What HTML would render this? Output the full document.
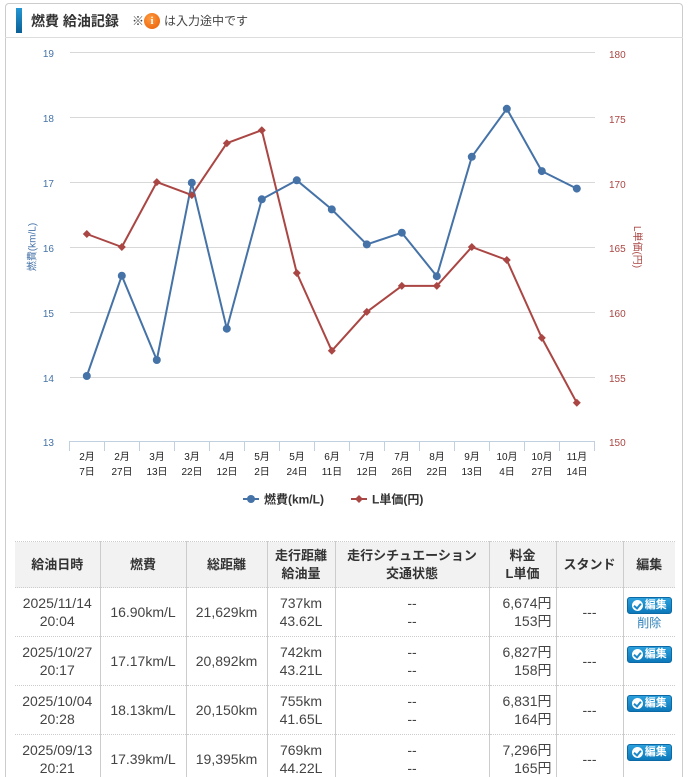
<!DOCTYPE html>
<html><head><meta charset="utf-8">
<style>
*{margin:0;padding:0;box-sizing:border-box}
html,body{width:688px;height:777px;overflow:hidden;background:#fff;font-family:"Liberation Sans","Noto Sans CJK JP",sans-serif;color:#444}
.frame{position:absolute;left:5px;top:3px;width:678px;height:774px;border:1px solid #ccc;border-bottom:none;border-radius:4px 4px 0 0}
.hdr{position:absolute;left:5px;top:3px;width:678px;height:35px;border-bottom:1px solid #ddd}
.bar{position:absolute;left:16px;top:8px;width:6px;height:25px;background:linear-gradient(#2597d4,#0b5f96)}
.title{position:absolute;left:31px;top:11px;font-size:14px;font-weight:bold;color:#333;white-space:nowrap;line-height:20px}
.note{position:absolute;left:132px;top:12px;font-size:12px;color:#444;white-space:nowrap;line-height:18px}
.ic{position:absolute;left:144px;top:13px;width:16px;height:16px;border-radius:50%;background:radial-gradient(circle at 40% 35%,#ff9a40,#e85a00);color:#fff;font:bold 11px/16px "Liberation Serif",serif;text-align:center}
.note2{position:absolute;left:164px;top:12px;font-size:12px;color:#444;white-space:nowrap;line-height:18px}
svg{position:absolute;left:0;top:0}
.tw{position:absolute;left:15px;top:541px;width:660px;height:236px;overflow:hidden}
table{border-collapse:collapse;table-layout:fixed;width:660px;font-size:14px;color:#444}
th{background:#f2f2f2;font-weight:bold;color:#333;font-size:13px;height:46px;line-height:18px;border-top:1px dotted #ccc;border-left:1px solid #ccc;text-align:center;vertical-align:middle}
td{height:49px;line-height:18px;border-top:1px dotted #ccc;border-left:1px solid #ccc;text-align:center;vertical-align:middle}
th:first-child,td:first-child{border-left:none}
td.r{text-align:right;padding-right:4px}
td.e{vertical-align:top;padding-top:6px}
.btn{display:inline-block;width:45px;height:17px;border-radius:3px;background:linear-gradient(#2ba0dc,#0c78ba);border:1px solid #0b6aa5;color:#fff;font-weight:bold;font-size:11px;line-height:15px;text-align:right;padding-right:4px;position:relative}
.btn:before{content:"";position:absolute;left:4px;top:2px;width:11px;height:11px;border-radius:50%;background:#fff}
.btn:after{content:"";position:absolute;left:7px;top:4px;width:3px;height:5px;border-right:2px solid #1a88c8;border-bottom:2px solid #1a88c8;transform:rotate(40deg)}
.del{display:block;color:#2a7fb8;font-size:12px;line-height:16px;margin-top:1px}
</style></head><body>
<div class="frame"></div>
<div class="hdr"></div>
<div class="bar"></div>
<div class="title">燃費 給油記録</div>
<div class="note">※</div>
<div class="ic">i</div>
<div class="note2">は入力途中です</div>

<svg width="688" height="540" viewBox="0 0 688 540" xmlns="http://www.w3.org/2000/svg" font-family="Liberation Sans, Noto Sans CJK JP, sans-serif">
<g stroke="#d8d8d8" stroke-width="1">
<line x1="70" y1="52.5" x2="595" y2="52.5"/>
<line x1="70" y1="117.5" x2="595" y2="117.5"/>
<line x1="70" y1="182.5" x2="595" y2="182.5"/>
<line x1="70" y1="247.5" x2="595" y2="247.5"/>
<line x1="70" y1="312.5" x2="595" y2="312.5"/>
<line x1="70" y1="377.5" x2="595" y2="377.5"/>
</g>
<g stroke="#c0d0e0" stroke-width="1">
<line x1="69" y1="441.5" x2="595" y2="441.5"/>
<line x1="69.5" y1="441" x2="69.5" y2="451"/>
<line x1="104.5" y1="441" x2="104.5" y2="451"/>
<line x1="139.5" y1="441" x2="139.5" y2="451"/>
<line x1="174.5" y1="441" x2="174.5" y2="451"/>
<line x1="209.5" y1="441" x2="209.5" y2="451"/>
<line x1="244.5" y1="441" x2="244.5" y2="451"/>
<line x1="279.5" y1="441" x2="279.5" y2="451"/>
<line x1="314.5" y1="441" x2="314.5" y2="451"/>
<line x1="349.5" y1="441" x2="349.5" y2="451"/>
<line x1="384.5" y1="441" x2="384.5" y2="451"/>
<line x1="419.5" y1="441" x2="419.5" y2="451"/>
<line x1="454.5" y1="441" x2="454.5" y2="451"/>
<line x1="489.5" y1="441" x2="489.5" y2="451"/>
<line x1="524.5" y1="441" x2="524.5" y2="451"/>
<line x1="559.5" y1="441" x2="559.5" y2="451"/>
<line x1="594.5" y1="441" x2="594.5" y2="451"/>
</g>
<g font-size="10" fill="#4572a7" text-anchor="end">
<text x="54" y="57">19</text><text x="54" y="122">18</text><text x="54" y="187">17</text><text x="54" y="252">16</text><text x="54" y="317">15</text><text x="54" y="382">14</text><text x="54" y="446">13</text>
</g>
<g font-size="10" fill="#aa4643" text-anchor="start">
<text x="609" y="58">180</text><text x="609" y="123">175</text><text x="609" y="188">170</text><text x="609" y="252">165</text><text x="609" y="317">160</text><text x="609" y="382">155</text><text x="609" y="446">150</text>
</g>
<text x="0" y="0" font-size="10" fill="#4572a7" text-anchor="middle" transform="translate(35.5,247) rotate(-90)">燃費(km/L)</text>
<text x="0" y="0" font-size="10" fill="#aa4643" text-anchor="middle" transform="translate(634,247) rotate(90)">L単価(円)</text>
<g font-size="10" fill="#222" text-anchor="middle">
<text x="87" y="460">2月</text><text x="87" y="475">7日</text>
<text x="122" y="460">2月</text><text x="122" y="475">27日</text>
<text x="157" y="460">3月</text><text x="157" y="475">13日</text>
<text x="192" y="460">3月</text><text x="192" y="475">22日</text>
<text x="227" y="460">4月</text><text x="227" y="475">12日</text>
<text x="262" y="460">5月</text><text x="262" y="475">2日</text>
<text x="297" y="460">5月</text><text x="297" y="475">24日</text>
<text x="332" y="460">6月</text><text x="332" y="475">11日</text>
<text x="367" y="460">7月</text><text x="367" y="475">12日</text>
<text x="402" y="460">7月</text><text x="402" y="475">26日</text>
<text x="437" y="460">8月</text><text x="437" y="475">22日</text>
<text x="472" y="460">9月</text><text x="472" y="475">13日</text>
<text x="507" y="460">10月</text><text x="507" y="475">4日</text>
<text x="542" y="460">10月</text><text x="542" y="475">27日</text>
<text x="577" y="460">11月</text><text x="577" y="475">14日</text>
</g>
<polyline fill="none" stroke="#aa4643" stroke-width="2" stroke-linejoin="round" points="86.8,234 121.8,247 156.8,182.1 191.8,195.1 226.8,143.2 261.8,130.2 296.8,273 331.8,350.8 366.8,311.9 401.8,285.9 436.8,285.9 471.8,247 506.8,260 541.8,337.9 576.8,402.8"/>
<polyline fill="none" stroke="#4572a7" stroke-width="2" stroke-linejoin="round" points="86.8,376 121.8,275.7 156.8,360 191.8,182.7 226.8,328.7 261.8,199.3 296.8,180.3 331.8,209.4 366.8,244.4 401.8,232.7 436.8,276.2 471.8,156.8 506.8,108.8 541.8,171.1 576.8,188.6"/>
<g fill="#aa4643">
<path d="M86.8,230 l4,4 l-4,4 l-4,-4z"/><path d="M121.8,243 l4,4 l-4,4 l-4,-4z"/><path d="M156.8,178.1 l4,4 l-4,4 l-4,-4z"/><path d="M191.8,191.1 l4,4 l-4,4 l-4,-4z"/><path d="M226.8,139.2 l4,4 l-4,4 l-4,-4z"/><path d="M261.8,126.2 l4,4 l-4,4 l-4,-4z"/><path d="M296.8,269 l4,4 l-4,4 l-4,-4z"/><path d="M331.8,346.8 l4,4 l-4,4 l-4,-4z"/><path d="M366.8,307.9 l4,4 l-4,4 l-4,-4z"/><path d="M401.8,281.9 l4,4 l-4,4 l-4,-4z"/><path d="M436.8,281.9 l4,4 l-4,4 l-4,-4z"/><path d="M471.8,243 l4,4 l-4,4 l-4,-4z"/><path d="M506.8,256 l4,4 l-4,4 l-4,-4z"/><path d="M541.8,333.9 l4,4 l-4,4 l-4,-4z"/><path d="M576.8,398.8 l4,4 l-4,4 l-4,-4z"/>
</g>
<g fill="#4572a7">
<circle cx="86.8" cy="376" r="4"/><circle cx="121.8" cy="275.7" r="4"/><circle cx="156.8" cy="360" r="4"/><circle cx="191.8" cy="182.7" r="4"/><circle cx="226.8" cy="328.7" r="4"/><circle cx="261.8" cy="199.3" r="4"/><circle cx="296.8" cy="180.3" r="4"/><circle cx="331.8" cy="209.4" r="4"/><circle cx="366.8" cy="244.4" r="4"/><circle cx="401.8" cy="232.7" r="4"/><circle cx="436.8" cy="276.2" r="4"/><circle cx="471.8" cy="156.8" r="4"/><circle cx="506.8" cy="108.8" r="4"/><circle cx="541.8" cy="171.1" r="4"/><circle cx="576.8" cy="188.6" r="4"/>
</g>
<line x1="243" y1="499" x2="259" y2="499" stroke="#4572a7" stroke-width="2"/>
<circle cx="251" cy="499" r="4" fill="#4572a7"/>
<text x="264" y="503.5" font-size="12" font-weight="bold" fill="#333">燃費(km/L)</text>
<line x1="351" y1="499" x2="367" y2="499" stroke="#aa4643" stroke-width="2"/>
<path d="M359,495 l4,4 l-4,4 l-4,-4z" fill="#aa4643"/>
<text x="372" y="503.5" font-size="12" font-weight="bold" fill="#333">L単価(円)</text>
</svg>

<div class="tw">
<table>
<colgroup><col style="width:85px"><col style="width:86px"><col style="width:81px"><col style="width:68px"><col style="width:154px"><col style="width:67px"><col style="width:67px"><col style="width:52px"></colgroup>
<tr><th>給油日時</th><th>燃費</th><th>総距離</th><th>走行距離<br>給油量</th><th>走行シチュエーション<br>交通状態</th><th>料金<br>L単価</th><th>スタンド</th><th>編集</th></tr>
<tr><td>2025/11/14<br>20:04</td><td>16.90km/L</td><td>21,629km</td><td>737km<br>43.62L</td><td>--<br>--</td><td class="r">6,674円<br>153円</td><td>---</td><td class="e"><span class="btn">編集</span><span class="del">削除</span></td></tr>
<tr><td>2025/10/27<br>20:17</td><td>17.17km/L</td><td>20,892km</td><td>742km<br>43.21L</td><td>--<br>--</td><td class="r">6,827円<br>158円</td><td>---</td><td class="e"><span class="btn">編集</span></td></tr>
<tr><td>2025/10/04<br>20:28</td><td>18.13km/L</td><td>20,150km</td><td>755km<br>41.65L</td><td>--<br>--</td><td class="r">6,831円<br>164円</td><td>---</td><td class="e"><span class="btn">編集</span></td></tr>
<tr><td>2025/09/13<br>20:21</td><td>17.39km/L</td><td>19,395km</td><td>769km<br>44.22L</td><td>--<br>--</td><td class="r">7,296円<br>165円</td><td>---</td><td class="e"><span class="btn">編集</span></td></tr>
</table>
</div>
</body></html>
